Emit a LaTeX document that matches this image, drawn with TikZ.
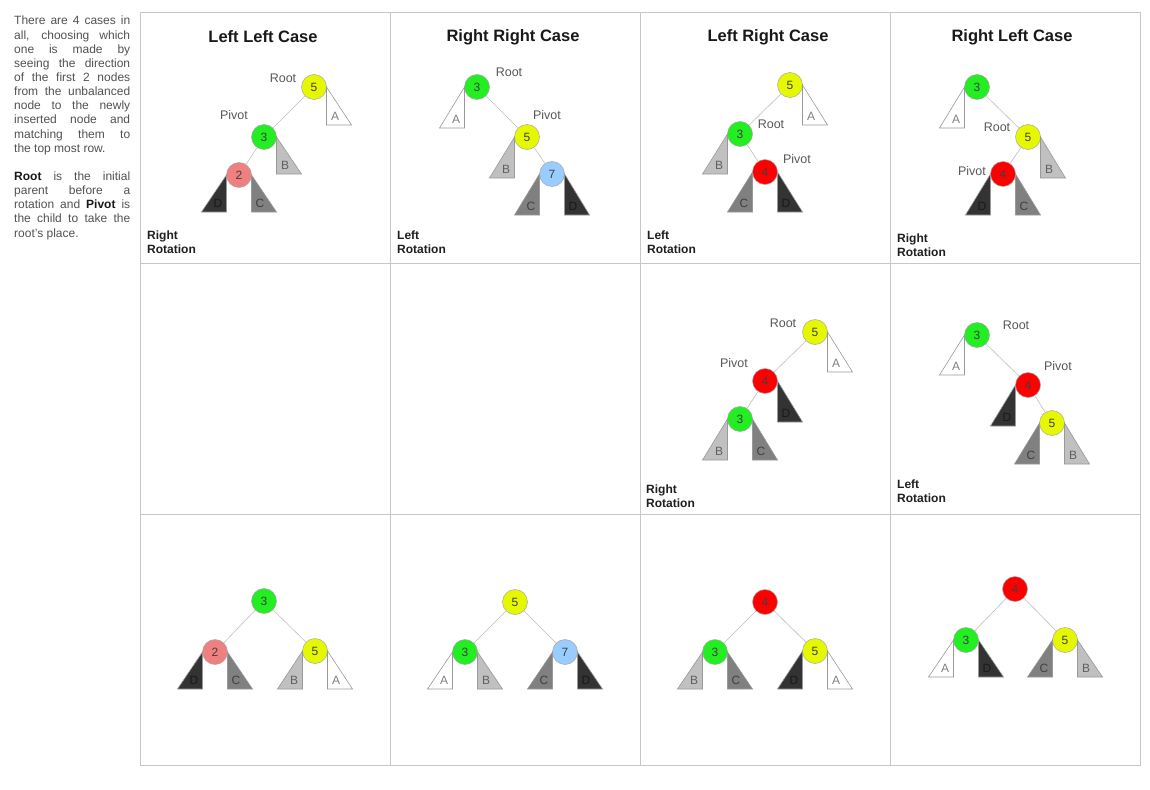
\documentclass[tikz,border=0pt]{standalone}
\usepackage{fontspec}
\setmainfont{Liberation Sans}
\usepackage{xcolor}
\usetikzlibrary{positioning}

\definecolor{ylw}{RGB}{230,248,0}
\definecolor{grn}{RGB}{34,238,34}
\definecolor{pnk}{RGB}{240,128,128}
\definecolor{blu}{RGB}{153,204,255}
\definecolor{rd}{RGB}{255,0,0}
\definecolor{tA}{RGB}{255,255,255}
\definecolor{tB}{RGB}{192,192,192}
\definecolor{tC}{RGB}{128,128,128}
\definecolor{tD}{RGB}{51,51,51}

% subtree hanging on the left / right of a tree node
\newcommand{\leftsub}[4]{%
  \draw[subtree,fill=#2] ([shift={(-12.5,0)}]#1.center) -- ++(0,#4) -- ++(-25,0) -- cycle;
  \node[sublabel,text=#2!50!black] at ([shift={(-21,#4-9)}]#1.center) {#3};}
\newcommand{\rightsub}[4]{%
  \draw[subtree,fill=#2] ([shift={(12.5,0)}]#1.center) -- ++(0,#4) -- ++(25,0) -- cycle;
  \node[sublabel,text=#2!50!black] at ([shift={(21,#4-9)}]#1.center) {#3};}

\begin{document}
\begin{tikzpicture}[x=1pt,y=-1pt,
    grid/.style={draw=black!22,line width=0.8pt},
    avl/.style={circle,draw=black!35,line width=0.5pt,minimum size=25pt,inner sep=0pt,
      text=black!75,font=\fontsize{12}{12}\selectfont},
    link/.style={draw=black!25,line width=0.6pt},
    subtree/.style={draw=black!40,line width=0.6pt},
    sublabel/.style={inner sep=0pt,font=\fontsize{12}{12}\selectfont},
    tag/.style={inner sep=0pt,text=black!65,font=\fontsize{12.5}{13}\selectfont},
    title/.style={inner sep=0pt,text=black!90,font=\bfseries\fontsize{16.5}{17}\selectfont},
    rot/.style={inner sep=0pt,anchor=north west,align=left,text=black!88,
      font=\bfseries\fontsize{12}{14}\selectfont}]
  \useasboundingbox (0,0) rectangle (1150,789);
  \fill[white] (0,0) rectangle (1150,789);

  % grid of cases
  \draw[grid] (140,12) rectangle (1140,765)
    (390,12) -- (390,765) (640,12) -- (640,765) (890,12) -- (890,765)
    (140,263) -- (1140,263) (140,514) -- (1140,514);

  % explanation
  \node[inner sep=0pt,anchor=north west,align=left,text=black!68,
    font=\fontsize{12}{14.15}\selectfont] (intro) at (14,16) {%
    \makebox[116pt][s]{There are 4 cases in}\\
    \makebox[116pt][s]{all, choosing which}\\
    \makebox[116pt][s]{one is made by}\\
    \makebox[116pt][s]{seeing the direction}\\
    \makebox[116pt][s]{of the first 2 nodes}\\
    \makebox[116pt][s]{from the unbalanced}\\
    \makebox[116pt][s]{node to the newly}\\
    \makebox[116pt][s]{inserted node and}\\
    \makebox[116pt][s]{matching them to}\\
    the top most row.\\[14.15pt]
    \makebox[116pt][s]{\textcolor{black!90}{\textbf{Root}} is the initial}\\
    \makebox[116pt][s]{parent before a}\\
    \makebox[116pt][s]{rotation and \textcolor{black!90}{\textbf{Pivot}} is}\\
    \makebox[116pt][s]{the child to take the}\\
    root's place.};

  % titles
  \node[title] (tll) at (263,37) {Left Left Case};
  \node[title] (trr) at (513,37) {Right Right Case};
  \node[title] (tlr) at (768,37) {Left Right Case};
  \node[title] (trl) at (1012,37) {Right Left Case};

  % left left case
  \node[avl,fill=ylw] (ll5) at (314,87) {5};
  \node[avl,fill=grn] (ll3) at (264,137) {3};
  \node[avl,fill=pnk] (ll2) at (239,175) {2};
  \draw[link] (ll5) -- (ll3);
  \draw[link] (ll3) -- (ll2);
  \rightsub{ll5}{tA}{A}{38}
  \rightsub{ll3}{tB}{B}{37}
  \leftsub{ll2}{tD}{D}{37}
  \rightsub{ll2}{tC}{C}{37}
  \node[tag] at (283,78) {Root};
  \node[tag] at (234,115) {Pivot};
  \node[rot] at (147,231) {Right\\Rotation};

  % right right case
  \node[avl,fill=grn] (rr3) at (477,87) {3};
  \node[avl,fill=ylw] (rr5) at (527,137) {5};
  \node[avl,fill=blu] (rr7) at (552,174) {7};
  \draw[link] (rr3) -- (rr5);
  \draw[link] (rr5) -- (rr7);
  \leftsub{rr3}{tA}{A}{41}
  \leftsub{rr5}{tB}{B}{41}
  \leftsub{rr7}{tC}{C}{41}
  \rightsub{rr7}{tD}{D}{41}
  \node[tag] at (509,72) {Root};
  \node[tag] at (547,115) {Pivot};
  \node[rot] at (397,231) {Left\\Rotation};

  % left right case
  \node[avl,fill=ylw] (lr5) at (790,85) {5};
  \node[avl,fill=grn] (lr3) at (740,134) {3};
  \node[avl,fill=rd] (lr4) at (765,172) {4};
  \draw[link] (lr5) -- (lr3);
  \draw[link] (lr3) -- (lr4);
  \rightsub{lr5}{tA}{A}{40}
  \leftsub{lr3}{tB}{B}{40}
  \leftsub{lr4}{tC}{C}{40}
  \rightsub{lr4}{tD}{D}{40}
  \node[tag] at (771,124) {Root};
  \node[tag] at (797,159) {Pivot};
  \node[rot] at (647,231) {Left\\Rotation};

  % right left case
  \node[avl,fill=grn] (rl3) at (977,87) {3};
  \node[avl,fill=ylw] (rl5) at (1028,137) {5};
  \node[avl,fill=rd] (rl4) at (1003,174) {4};
  \draw[link] (rl3) -- (rl5);
  \draw[link] (rl5) -- (rl4);
  \leftsub{rl3}{tA}{A}{41}
  \rightsub{rl5}{tB}{B}{41}
  \leftsub{rl4}{tD}{D}{41}
  \rightsub{rl4}{tC}{C}{41}
  \node[tag] at (997,127) {Root};
  \node[tag] at (972,171) {Pivot};
  \node[rot] at (897,234) {Right\\Rotation};

  % left right case, after first rotation
  \node[avl,fill=ylw] (lrm5) at (815,332) {5};
  \node[avl,fill=rd] (lrm4) at (765,381) {4};
  \node[avl,fill=grn] (lrm3) at (740,419) {3};
  \draw[link] (lrm5) -- (lrm4);
  \draw[link] (lrm4) -- (lrm3);
  \rightsub{lrm5}{tA}{A}{40}
  \rightsub{lrm4}{tD}{D}{41}
  \leftsub{lrm3}{tB}{B}{41}
  \rightsub{lrm3}{tC}{C}{41}
  \node[tag] at (783,323) {Root};
  \node[tag] at (734,363) {Pivot};
  \node[rot] at (646,485) {Right\\Rotation};

  % right left case, after first rotation
  \node[avl,fill=grn] (rlm3) at (977,335) {3};
  \node[avl,fill=rd] (rlm4) at (1028,385) {4};
  \node[avl,fill=ylw] (rlm5) at (1052,423) {5};
  \draw[link] (rlm3) -- (rlm4);
  \draw[link] (rlm4) -- (rlm5);
  \leftsub{rlm3}{tA}{A}{40}
  \leftsub{rlm4}{tD}{D}{41}
  \leftsub{rlm5}{tC}{C}{41}
  \rightsub{rlm5}{tB}{B}{41}
  \node[tag] at (1016,325) {Root};
  \node[tag] at (1058,366) {Pivot};
  \node[rot] at (897,480) {Left\\Rotation};

  % balanced results
  \node[avl,fill=grn] (llb3) at (264,601) {3};
  \node[avl,fill=pnk] (llb2) at (215,652) {2};
  \node[avl,fill=ylw] (llb5) at (315,651) {5};
  \draw[link] (llb3) -- (llb2);
  \draw[link] (llb3) -- (llb5);
  \leftsub{llb2}{tD}{D}{37}
  \rightsub{llb2}{tC}{C}{37}
  \leftsub{llb5}{tB}{B}{38}
  \rightsub{llb5}{tA}{A}{38}

  \node[avl,fill=ylw] (rrb5) at (515,602) {5};
  \node[avl,fill=grn] (rrb3) at (465,652) {3};
  \node[avl,fill=blu] (rrb7) at (565,652) {7};
  \draw[link] (rrb5) -- (rrb3);
  \draw[link] (rrb5) -- (rrb7);
  \leftsub{rrb3}{tA}{A}{37}
  \rightsub{rrb3}{tB}{B}{37}
  \leftsub{rrb7}{tC}{C}{37}
  \rightsub{rrb7}{tD}{D}{37}

  \node[avl,fill=rd] (lrb4) at (765,602) {4};
  \node[avl,fill=grn] (lrb3) at (715,652) {3};
  \node[avl,fill=ylw] (lrb5) at (815,651) {5};
  \draw[link] (lrb4) -- (lrb3);
  \draw[link] (lrb4) -- (lrb5);
  \leftsub{lrb3}{tB}{B}{37}
  \rightsub{lrb3}{tC}{C}{37}
  \leftsub{lrb5}{tD}{D}{38}
  \rightsub{lrb5}{tA}{A}{38}

  \node[avl,fill=rd] (rlb4) at (1015,589) {4};
  \node[avl,fill=grn] (rlb3) at (966,640) {3};
  \node[avl,fill=ylw] (rlb5) at (1065,640) {5};
  \draw[link] (rlb4) -- (rlb3);
  \draw[link] (rlb4) -- (rlb5);
  \leftsub{rlb3}{tA}{A}{37}
  \rightsub{rlb3}{tD}{D}{37}
  \leftsub{rlb5}{tC}{C}{37}
  \rightsub{rlb5}{tB}{B}{37}
\end{tikzpicture}
\end{document}
